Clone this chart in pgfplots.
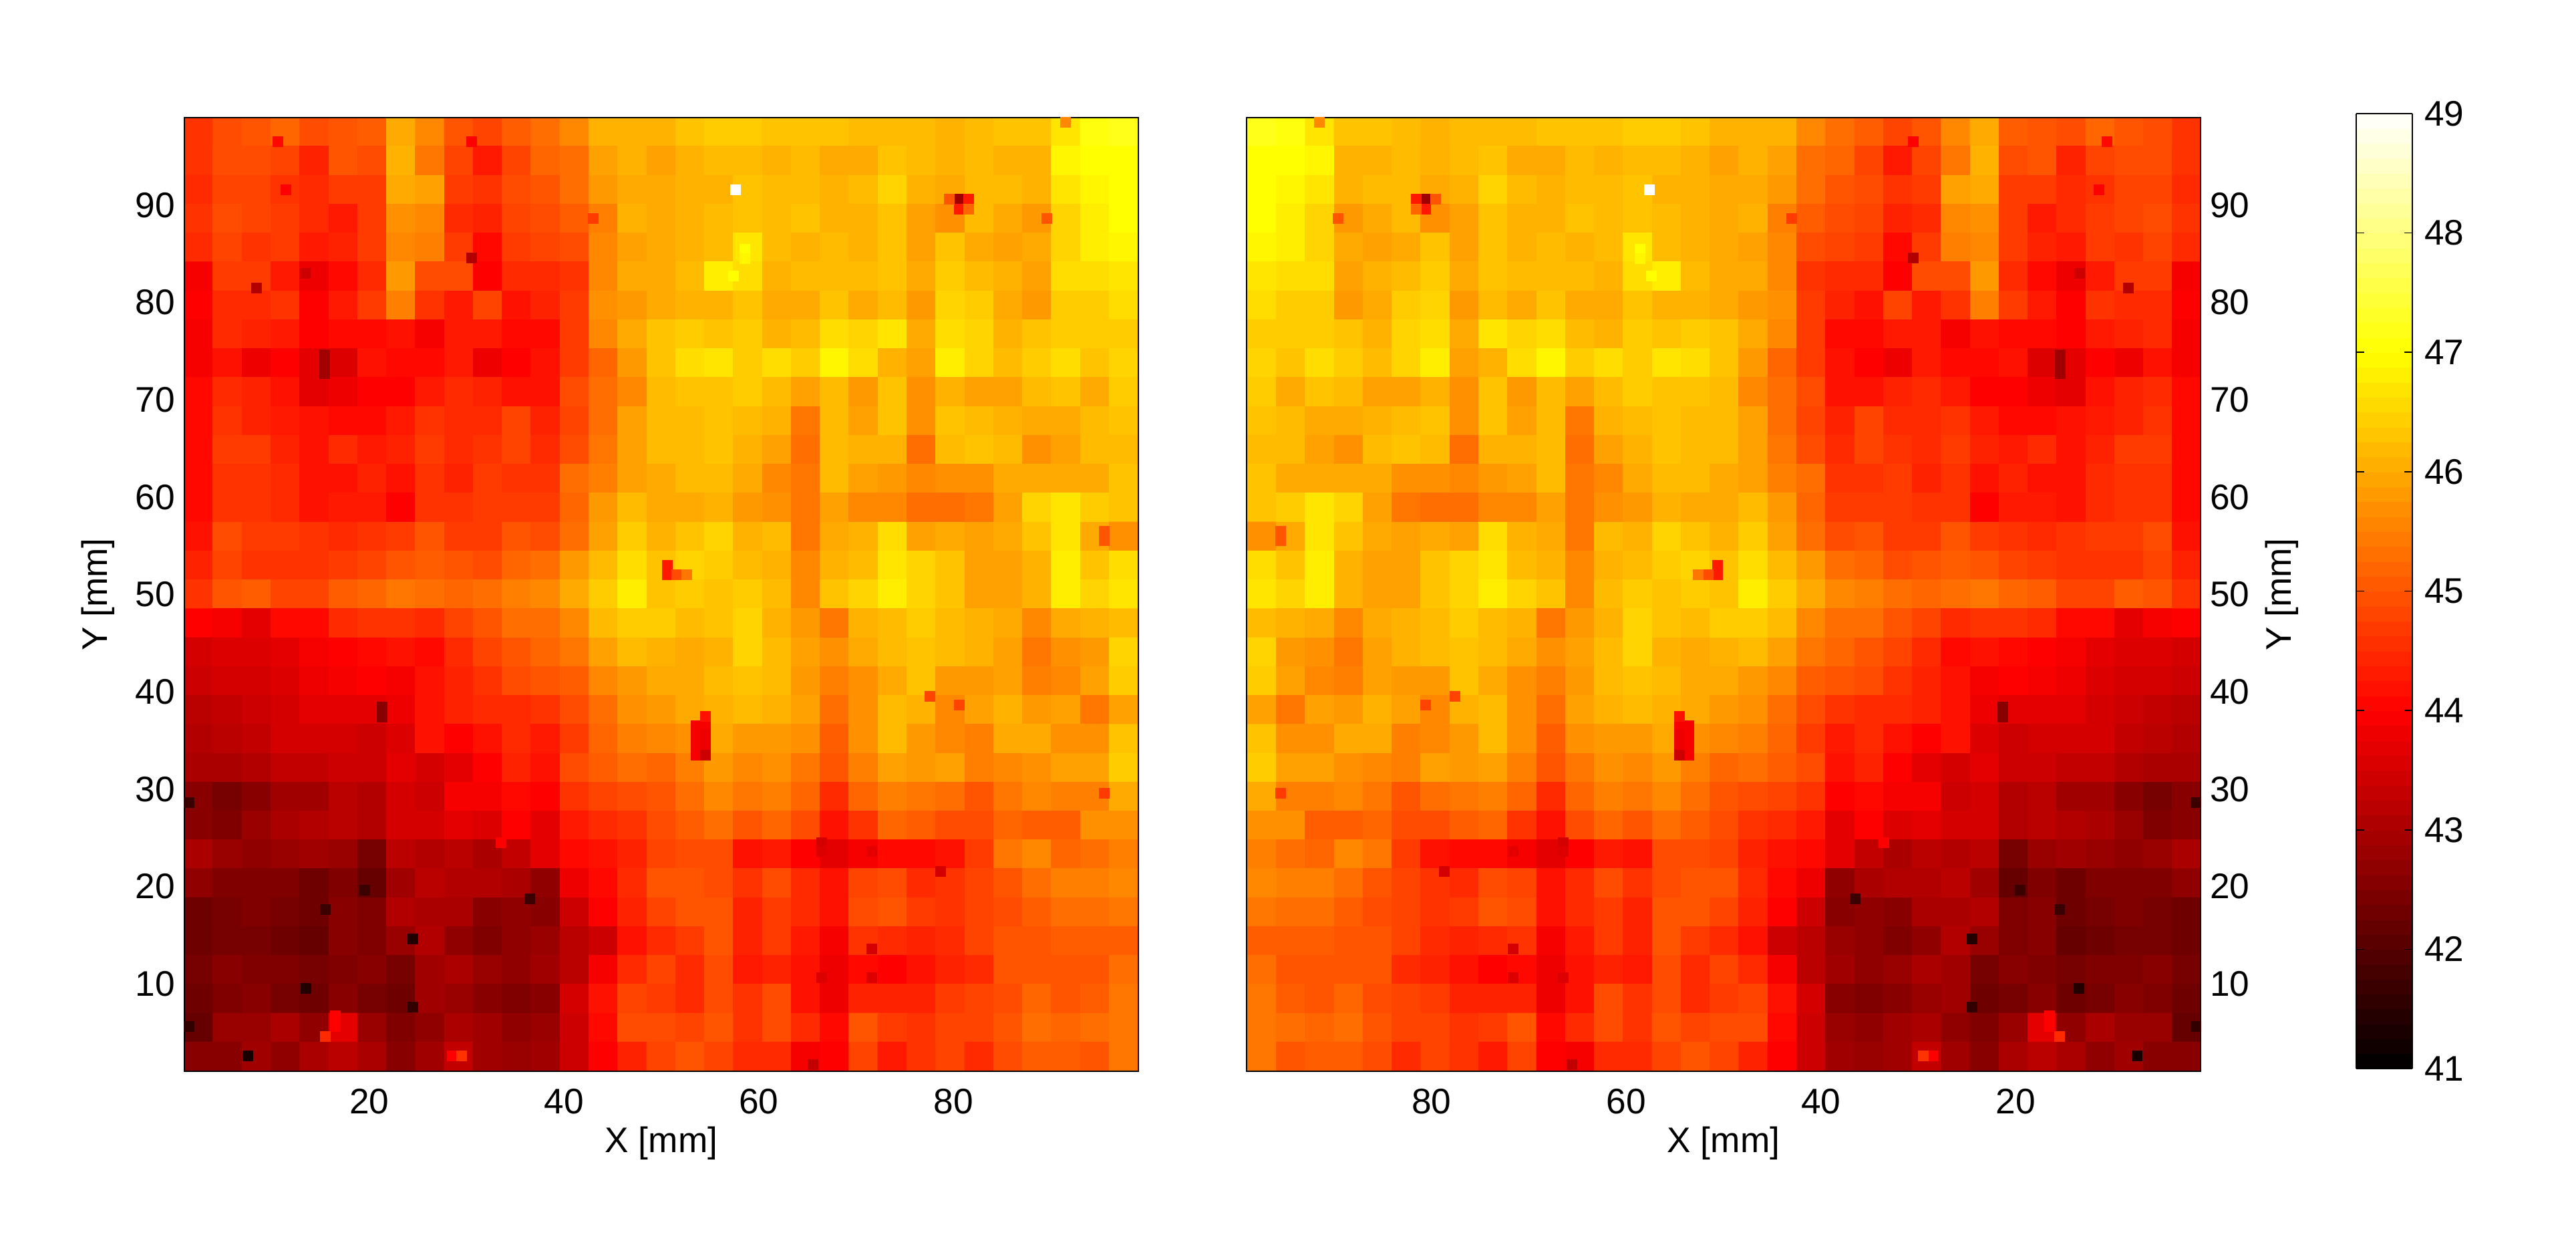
\documentclass[border=0pt]{standalone}
\usepackage{pgfplots}
\usepackage{pgfplotstable}
\usepackage{fontspec}
\setmainfont{Liberation Sans}
\pgfplotsset{compat=1.18}
\pgfplotstableread[row sep=crcr,header=false]{
44.6\\44.9\\45.0\\45.2\\44.9\\45.0\\45.1\\46.0\\45.6\\45.0\\44.8\\45.1\\45.3\\45.6\\46.1\\46.1\\46.1\\46.3\\46.4\\46.4\\46.3\\46.3\\46.3\\46.2\\46.2\\46.2\\46.1\\46.2\\46.3\\46.3\\46.7\\47.1\\47.2\\
44.6\\44.9\\44.9\\44.8\\44.4\\45.0\\44.9\\46.1\\45.4\\44.8\\44.3\\44.8\\45.2\\45.3\\45.9\\46.1\\45.9\\46.1\\46.2\\46.2\\46.1\\46.2\\46.0\\46.0\\46.3\\46.2\\46.1\\46.2\\46.1\\46.1\\46.9\\47.0\\47.0\\
44.5\\44.8\\44.8\\44.6\\44.5\\44.7\\44.7\\46.0\\45.9\\44.7\\44.6\\44.9\\45.0\\45.3\\45.8\\46.0\\46.0\\46.1\\46.1\\46.3\\46.2\\46.2\\46.1\\46.2\\46.5\\46.1\\46.0\\46.2\\46.2\\46.1\\46.7\\46.9\\47.0\\
44.6\\44.9\\44.8\\44.7\\44.5\\44.3\\44.7\\45.7\\45.6\\44.5\\44.4\\44.8\\44.9\\45.1\\45.5\\46.1\\46.0\\46.1\\46.2\\46.3\\46.2\\46.3\\46.1\\46.1\\46.3\\45.9\\45.7\\46.2\\46.0\\45.8\\46.5\\46.8\\47.0\\
44.5\\44.8\\44.6\\44.7\\44.3\\44.4\\44.7\\45.6\\45.5\\44.7\\44.1\\44.7\\44.8\\44.9\\45.6\\45.9\\46.0\\46.1\\46.2\\46.7\\46.2\\46.1\\46.2\\46.1\\46.3\\45.9\\46.3\\46.0\\45.9\\46.0\\46.5\\46.8\\46.9\\
43.9\\44.7\\44.7\\44.3\\43.8\\44.1\\44.5\\45.8\\44.9\\44.9\\44.0\\44.5\\44.5\\44.6\\45.6\\46.0\\46.0\\46.2\\46.8\\46.6\\46.1\\46.2\\46.2\\46.2\\46.3\\46.0\\46.4\\46.2\\46.1\\45.9\\46.6\\46.6\\46.7\\
44.0\\44.5\\44.5\\44.6\\44.0\\44.3\\44.7\\45.5\\44.6\\44.3\\44.8\\44.2\\44.4\\44.7\\45.7\\45.8\\46.0\\46.1\\46.1\\46.3\\46.0\\46.0\\46.3\\46.0\\46.2\\45.8\\46.5\\46.4\\46.0\\45.8\\46.4\\46.4\\46.6\\
43.9\\44.5\\44.4\\44.3\\44.0\\44.1\\44.1\\44.2\\43.9\\44.3\\44.3\\44.1\\44.1\\44.7\\45.6\\46.0\\46.3\\46.4\\46.3\\46.4\\46.1\\46.2\\46.6\\46.5\\46.7\\46.0\\46.6\\46.5\\46.1\\46.3\\46.4\\46.4\\46.4\\
43.9\\44.2\\43.8\\44.0\\43.7\\43.6\\44.2\\44.1\\44.1\\44.3\\43.8\\44.0\\44.2\\44.7\\45.2\\45.8\\46.3\\46.6\\46.7\\46.4\\46.6\\46.4\\46.9\\46.6\\46.1\\45.9\\46.8\\46.5\\46.2\\46.4\\46.6\\46.3\\46.5\\
44.1\\44.5\\44.4\\44.2\\43.7\\43.8\\44.0\\44.0\\44.3\\44.5\\44.4\\44.2\\44.2\\44.9\\45.3\\45.6\\46.2\\46.3\\46.3\\46.4\\46.2\\45.9\\46.2\\45.8\\46.3\\45.7\\46.1\\45.9\\45.9\\46.2\\46.3\\46.0\\46.4\\
44.1\\44.6\\44.4\\44.3\\44.2\\44.1\\44.1\\44.3\\44.6\\44.5\\44.5\\44.8\\44.4\\44.8\\45.3\\45.9\\46.2\\46.2\\46.3\\46.2\\46.1\\45.4\\46.2\\45.9\\46.3\\45.7\\46.3\\46.2\\46.1\\46.0\\46.0\\46.2\\46.3\\
44.1\\44.7\\44.7\\44.4\\44.2\\44.5\\44.3\\44.4\\44.7\\44.5\\44.6\\44.8\\44.5\\44.9\\45.4\\45.9\\46.2\\46.2\\46.3\\46.1\\45.9\\45.3\\46.2\\46.1\\46.1\\45.3\\46.2\\46.3\\46.2\\45.7\\45.9\\46.2\\46.2\\
44.1\\44.6\\44.6\\44.5\\44.2\\44.2\\44.4\\44.2\\44.6\\44.4\\44.7\\44.6\\44.6\\45.3\\45.5\\45.9\\46.0\\46.2\\46.2\\46.0\\45.6\\45.4\\46.2\\45.9\\45.8\\45.6\\45.7\\45.7\\46.0\\46.0\\46.0\\46.0\\46.3\\
44.1\\44.6\\44.6\\44.5\\44.2\\44.3\\44.3\\44.0\\44.6\\44.6\\44.7\\44.7\\44.7\\45.2\\45.8\\46.2\\46.0\\46.0\\46.1\\45.8\\45.7\\45.4\\45.9\\45.6\\45.6\\45.3\\45.3\\45.4\\45.9\\46.5\\46.7\\46.4\\46.3\\
44.2\\44.9\\44.7\\44.7\\44.6\\44.5\\44.6\\44.7\\45.0\\44.7\\44.7\\45.0\\44.9\\45.3\\45.9\\46.4\\46.1\\46.3\\46.5\\46.1\\46.2\\45.4\\46.0\\46.1\\46.6\\45.9\\46.0\\45.9\\46.0\\46.3\\46.7\\46.0\\45.7\\
44.4\\44.8\\44.6\\44.6\\44.6\\44.7\\44.8\\45.0\\45.1\\45.0\\44.9\\45.2\\45.3\\45.8\\46.2\\46.6\\46.3\\46.5\\46.4\\46.2\\46.1\\45.6\\46.1\\46.2\\46.7\\46.5\\46.3\\45.9\\45.9\\46.1\\46.8\\46.3\\46.6\\
44.6\\45.0\\45.1\\44.8\\44.8\\45.1\\45.2\\45.4\\45.3\\45.2\\45.3\\45.5\\45.6\\46.0\\46.4\\46.8\\46.3\\46.4\\46.3\\46.4\\46.2\\45.6\\46.3\\46.5\\46.8\\46.5\\46.3\\45.9\\45.9\\46.1\\46.8\\46.5\\46.7\\
44.0\\43.9\\43.7\\44.1\\44.1\\44.5\\44.6\\44.6\\44.5\\44.8\\45.0\\45.3\\45.3\\45.6\\46.2\\46.4\\46.4\\46.2\\46.3\\46.5\\46.1\\45.8\\45.4\\46.1\\46.2\\46.4\\46.2\\46.1\\46.0\\45.6\\46.0\\46.1\\46.2\\
43.5\\43.6\\43.6\\43.7\\43.9\\44.0\\44.1\\44.2\\44.1\\44.5\\44.8\\45.0\\45.2\\45.4\\45.9\\46.2\\46.1\\46.0\\46.1\\46.5\\46.2\\45.9\\45.7\\46.0\\46.2\\46.3\\46.2\\46.1\\45.9\\45.4\\45.7\\45.8\\46.5\\
43.4\\43.5\\43.5\\43.6\\43.8\\43.9\\44.0\\43.9\\44.2\\44.4\\44.6\\44.9\\45.0\\45.1\\45.6\\45.8\\46.0\\46.0\\46.2\\46.3\\46.2\\45.8\\45.5\\45.7\\46.0\\46.3\\45.8\\45.8\\45.9\\45.5\\45.6\\45.9\\46.4\\
43.2\\43.3\\43.4\\43.5\\43.7\\43.7\\43.7\\43.8\\44.2\\44.4\\44.5\\44.5\\44.6\\44.9\\45.3\\45.7\\45.8\\46.0\\46.1\\46.2\\46.1\\45.9\\45.3\\45.7\\46.2\\46.1\\45.6\\45.9\\46.1\\45.8\\45.9\\45.4\\45.9\\
43.1\\43.2\\43.3\\43.5\\43.5\\43.5\\43.4\\43.6\\44.2\\44.0\\44.2\\44.5\\44.3\\44.7\\45.2\\45.5\\45.6\\45.7\\46.0\\45.8\\45.8\\45.7\\45.1\\45.7\\46.2\\45.8\\45.6\\45.5\\46.0\\46.0\\45.7\\45.7\\46.3\\
43.0\\43.0\\43.1\\43.3\\43.3\\43.4\\43.4\\43.7\\43.5\\43.7\\44.0\\44.4\\44.2\\44.9\\45.1\\45.3\\45.2\\45.5\\45.8\\45.6\\45.7\\45.4\\45.0\\45.5\\45.9\\45.8\\45.9\\45.5\\45.6\\45.7\\45.9\\45.9\\46.4\\
42.6\\42.4\\42.6\\42.9\\42.9\\43.2\\43.1\\43.5\\43.4\\43.9\\43.9\\44.1\\44.0\\44.6\\44.8\\44.9\\45.0\\45.3\\45.6\\45.4\\45.5\\45.2\\44.5\\45.2\\45.5\\45.4\\45.3\\45.0\\45.4\\45.6\\45.5\\45.5\\46.0\\
42.6\\42.5\\42.8\\43.0\\43.1\\43.2\\43.1\\43.5\\43.5\\43.7\\43.6\\44.0\\43.7\\44.3\\44.5\\44.6\\44.9\\45.1\\45.3\\45.0\\45.2\\44.9\\44.2\\44.6\\45.2\\45.1\\44.9\\44.9\\45.2\\45.1\\45.1\\45.7\\45.7\\
43.0\\42.8\\42.7\\42.8\\42.9\\42.8\\42.4\\43.2\\43.1\\43.2\\43.0\\43.3\\43.7\\44.1\\44.2\\44.4\\44.8\\44.9\\44.9\\44.2\\44.3\\44.0\\43.7\\43.9\\44.1\\44.1\\44.2\\44.7\\45.4\\45.6\\45.2\\45.3\\45.5\\
42.7\\42.5\\42.5\\42.5\\42.3\\42.5\\42.2\\42.9\\43.2\\43.1\\43.1\\43.0\\42.7\\43.8\\44.1\\44.5\\45.0\\45.0\\44.9\\44.6\\44.9\\44.5\\44.2\\44.8\\44.9\\44.5\\44.6\\44.8\\45.0\\45.3\\45.5\\45.5\\45.6\\
42.3\\42.4\\42.5\\42.4\\42.3\\42.6\\42.5\\43.1\\43.0\\43.0\\42.6\\42.7\\42.6\\43.4\\44.0\\44.4\\44.8\\45.0\\45.0\\44.4\\44.7\\44.5\\44.2\\44.9\\45.0\\44.7\\44.6\\44.8\\44.9\\45.1\\45.3\\45.3\\45.4\\
42.3\\42.4\\42.4\\42.3\\42.2\\42.6\\42.5\\42.8\\43.1\\42.7\\42.5\\42.7\\42.8\\43.2\\43.4\\44.2\\44.5\\44.7\\45.0\\44.4\\44.7\\44.3\\43.9\\44.6\\44.5\\44.4\\44.5\\44.8\\45.0\\45.0\\45.1\\45.1\\45.1\\
42.4\\42.6\\42.5\\42.5\\42.4\\42.5\\42.6\\42.4\\42.9\\43.0\\42.8\\42.7\\42.9\\43.2\\43.9\\44.5\\44.8\\44.5\\44.9\\44.3\\44.4\\44.2\\43.8\\44.1\\44.0\\44.2\\44.4\\44.5\\45.0\\45.0\\45.0\\45.0\\45.3\\
42.3\\42.5\\42.6\\42.4\\42.3\\42.6\\42.4\\42.3\\42.9\\42.8\\42.6\\42.5\\42.6\\43.5\\44.2\\44.8\\44.7\\44.5\\44.9\\44.6\\44.9\\44.2\\43.8\\44.4\\44.4\\44.4\\44.7\\44.8\\44.9\\45.2\\45.0\\45.1\\45.4\\
42.2\\42.8\\42.8\\43.0\\42.7\\43.7\\42.8\\42.5\\42.7\\43.0\\42.9\\42.7\\42.8\\43.4\\44.1\\44.9\\44.9\\44.8\\45.0\\44.6\\44.9\\44.5\\44.1\\45.0\\44.7\\44.6\\44.8\\44.8\\45.0\\45.3\\45.2\\45.3\\45.4\\
42.6\\42.6\\42.9\\42.7\\43.0\\43.2\\43.0\\42.6\\42.9\\43.3\\42.9\\42.8\\42.9\\43.4\\44.0\\44.4\\44.8\\45.0\\44.8\\44.5\\44.5\\43.9\\44.0\\44.8\\44.3\\44.6\\44.8\\44.5\\44.9\\45.1\\45.1\\45.0\\45.4\\
}\heat
\pgfplotstableread{
x y v
57.6 91.6 49
80.6 90.6 42.9
81.6 90.6 44.3
80.6 89.6 44.3
79.6 90.6 45.0
81.6 89.6 45.2
89.6 88.6 45.0
50.6 53.0 44.3
50.6 52.0 44.3
51.6 52.0 44.9
52.6 52.0 45.4
95.5 56.5 45.0
95.5 55.5 45.0
91.5 98.5 45.6
58.6 85.5 47.0
58.6 84.5 46.9
57.4 82.7 47.0
30.5 84.6 43.1
30.5 96.5 44.0
8.4 81.5 43.1
11.4 91.6 44.0
10.6 96.5 44.1
43.0 88.6 44.7
15.4 74.6 42.9
15.4 73.6 42.9
15.4 72.7 42.9
13.4 83.0 43.4
21.3 38.4 42.6
21.3 37.4 42.6
13.5 9.5 41.4
24.5 14.6 41.4
24.5 7.6 41.6
7.5 2.6 41.3
15.5 17.6 41.7
36.5 18.7 41.7
19.5 19.6 41.7
1.5 28.6 41.7
1.5 5.6 41.6
16.5 6.7 44.0
16.5 5.6 44.0
15.5 4.6 44.5
28.5 2.6 44.0
29.5 2.6 44.6
33.5 24.5 44.0
53.6 36.5 43.9
54.5 36.5 43.9
53.6 35.6 43.9
54.5 35.6 43.8
53.6 34.5 43.9
54.5 34.5 43.8
53.6 33.5 43.9
54.5 33.5 43.4
54.5 37.5 44.2
66.5 24.5 43.5
66.5 23.6 43.6
71.6 23.6 43.7
78.7 21.5 43.5
71.6 13.6 43.5
65.6 1.7 43.3
71.6 10.6 43.6
66.5 10.6 43.6
77.6 39.5 44.8
80.6 38.6 44.8
95.5 29.6 44.7
}\spots
\pgfplotsset{
  colormap={hot}{rgb(0)=(0,0,0) rgb(3)=(1,0,0) rgb(6)=(1,1,0) rgb(8)=(1,1,1)},
  panel/.style={
    scale only axis, anchor=south west,
    width=357pt, height=356.75pt,
    xmin=1, xmax=99, ymin=1, ymax=99,
    xtick={20,40,60,80}, ytick={10,20,...,90},
    major tick length=0pt,
    axis line style={black, line width=0.6pt},
    axis on top,
    point meta min=41, point meta max=49,
    tick label style={font=\fontsize{13.3}{16}\selectfont, /pgf/number format/assume math mode=true},
    xlabel={X [mm]}, ylabel={Y [mm]},
    every axis x label/.style={at={(axis description cs:0.5,-0.0757)},anchor=center,font=\fontsize{13.3}{16}\selectfont},
    xticklabel style={yshift=-3pt},
  },
  heatmap/.style={matrix plot*, mesh/cols=33, point meta=explicit},
  dots/.style={scatter, only marks, mark=square*, mark size=1.8pt,
    scatter/use mapped color={draw=mapped color,fill=mapped color},
    point meta=explicit},
}
\begin{document}
\begin{tikzpicture}
\path[use as bounding box] (0,0) rectangle (964pt,461pt);
\begin{axis}[panel, at={(69pt,60.25pt)},
  every axis y label/.style={at={(axis description cs:-0.0905,0.5)},rotate=90,anchor=center,font=\fontsize{13.3}{16}\selectfont}]
\addplot[heatmap] table[x index=0, y index=0, x expr={1+(mod(\coordindex,33)+0.5)*98/33}, y expr={99-(floor((\coordindex+0.5)/33)+0.5)*98/33}, meta index=0] {\heat};
\addplot[dots] table[x=x,y=y,meta=v] {\spots};
\end{axis}
\begin{axis}[panel, at={(466.5pt,60.25pt)}, x dir=reverse, yticklabel pos=right,
  every axis y label/.style={at={(axis description cs:1.085,0.5)},rotate=90,anchor=center,font=\fontsize{13.3}{16}\selectfont},
  colorbar sampled,
  colorbar style={samples=65,
    at={(parent axis.south east)}, anchor=south west, xshift=49.75pt, yshift=1pt,
    width=21pt, height=357.25pt,
    ytick={41,42,...,49},
    axis on top,
    yticklabel pos=right, tick pos=both, tick align=inside,
    major tick length=3pt,
    tick style={black, line width=0.4pt},
    axis line style={black, line width=0.6pt},
    yticklabel style={font=\fontsize{13.3}{16}\selectfont, /pgf/number format/assume math mode=true, xshift=1pt},
  }]
\addplot[heatmap] table[x index=0, y index=0, x expr={1+(mod(\coordindex,33)+0.5)*98/33}, y expr={99-(floor((\coordindex+0.5)/33)+0.5)*98/33}, meta index=0] {\heat};
\addplot[dots] table[x=x,y=y,meta=v] {\spots};
\end{axis}
\end{tikzpicture}
\end{document}
